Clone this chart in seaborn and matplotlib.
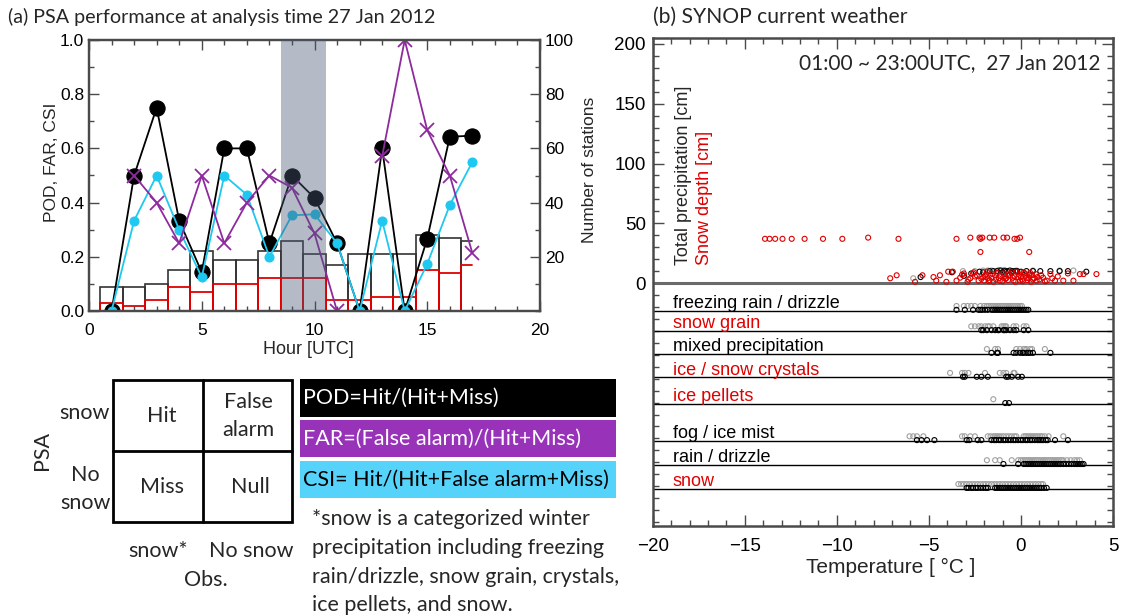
import numpy as np
import pandas as pd
import matplotlib.pyplot as plt
import matplotlib.patches as mpatches
import matplotlib.transforms as mtransforms
from matplotlib.ticker import MultipleLocator, FixedLocator, FormatStrFormatter
import seaborn as sns

sns.set_style("ticks")
plt.rcParams['font.family'] = ['Liberation Sans', 'DejaVu Sans']
plt.rcParams['xtick.direction'] = 'in'
plt.rcParams['ytick.direction'] = 'in'
GILL = ['Lato', 'DejaVu Sans']

# ---- (a) PSA scores per hour ----
hours = list(range(1, 18))
pod = [0.0, 0.5, 0.75, 0.333, 0.143, 0.6, 0.6, 0.25, 0.5, 0.417, 0.25, 0.0, 0.6, 0.0, 0.267, 0.643, 0.647]
far = [np.nan, 0.5, 0.4, 0.25, 0.5, 0.25, 0.4, 0.5, 0.455, 0.286, 0.0, np.nan, 0.571, 1.0, 0.667, 0.5, 0.214]
csi = [0.0, 0.333, 0.5, 0.3, 0.125, 0.5, 0.429, 0.2, 0.353, 0.357, 0.25, 0.0, 0.333, 0.0, 0.174, 0.391, 0.55]
n_total = [9, 9, 10, 15, 22, 19, 19, 22, 26, 21, 17, 21, 21, 21, 28, 27, 26]
n_snow = [3, 2, 4, 9, 7, 10, 10, 12, 12, 12, 4, 4, 5, 5, 15, 14, 17]
shade_hours = (8.5, 10.5)

# ---- (b) SYNOP current weather ----
cat_names = ['freezing rain / drizzle', 'snow grain', 'mixed precipitation', 'ice / snow crystals',
             'ice pellets', 'fog / ice mist', 'rain / drizzle', 'snow']
cat_colors = ['black', '#e00000', 'black', '#e00000', '#e00000', 'black', 'black', '#e00000']
cat_levels = [-23, -40, -59, -79, -101, -132, -152, -172]

fzra_grey = [-3.5, -3.1, -2.9, -2.7, -2.5, -2.2, -2.0, -1.85, -1.75, -1.65, -1.55, -1.45, -1.35, -1.25,
             -1.15, -1.05, -0.95, -0.85, -0.75, -0.65, -0.55, -0.45, -0.35, -0.25, -0.15, -0.05, 0.05]
fzra_black = [-3.5, -3.05, -2.6, -2.3, -2.2, -2.1, -1.95, -1.8, -1.6, -1.5, -1.4, -1.3, -1.2, -1.1, -1.0,
              -0.9, -0.8, -0.7, -0.6, -0.5, -0.4, -0.3, -0.2, -0.1, 0.0, 0.1, 0.2, 0.3, 0.4]
sngr_grey = [-2.7, -2.5, -2.3, -2.15, -1.95, -1.8, -1.7, -1.5, -1.05, -0.95, -0.85, -0.8, -0.4, -0.25, 0.15, 0.3]
sngr_black = [-2.15, -2.05, -1.85, -1.6, -1.4, -1.25, -1.2, -0.95, -0.9, -0.8, -0.6, -0.4, -0.25, 0.15, 0.4]
mixed_grey = [-1.85, -1.4, -1.25, -0.25, -0.05, 0.15, 0.2, 0.3, 0.5, 0.6, 1.3]
mixed_black = [-1.6, -1.3, -1.25, -0.4, -0.25, -0.05, 0.1, 0.15, 0.3, 0.4, 0.5, 0.65, 1.6]
crys_grey = [-3.85, -3.2, -3.05, -2.85, -1.95, -1.15, -0.95, -0.8, -0.4, -0.35]
crys_black = [-3.15, -3.05, -2.4, -2.15, -1.8, -0.8, -0.7, -0.5, -0.15, 0.05]
pellet_grey = [-1.5]
pellet_black = [-0.85, -0.65]
fog_grey = [-6.05, -5.85, -5.65, -5.3, -3.2, -3.05, -2.75, -2.5, -1.8, -1.65, -1.5, -1.4, -1.3, -1.2, -1.1,
            -0.95, -0.8, -0.65, -0.5, -0.35, -0.25, 0.15, 0.25, 0.35, 0.45, 0.55, 0.65, 0.75, 0.85, 0.95,
            1.05, 1.15, 1.3, 1.5, 2.3]
fog_black = [-5.65, -5.4, -5.1, -4.7, -2.95, -2.8, -2.35, -2.15, -1.6, -1.45, -1.35, -1.2, -1.1, -0.95,
             -0.85, -0.7, -0.55, -0.4, -0.3, -0.15, 0.0, 0.1, 0.25, 0.35, 0.5, 0.6, 0.75, 0.9, 1.0, 1.1,
             1.2, 1.35, 1.45, 1.85, 2.55]
rain_grey = [-1.85, -1.4, -1.15, -0.5, -0.15, 0.0, 0.1, 0.2, 0.3, 0.4, 0.5, 0.6, 0.7, 0.8, 0.9, 1.0, 1.1,
             1.2, 1.3, 1.4, 1.5, 1.6, 1.7, 1.8, 1.9, 2.0, 2.1, 2.2, 2.3, 2.5, 2.7, 2.9, 3.05, 3.2]
rain_black = [-0.95, -0.15, 0.15, 0.25, 0.35, 0.45, 0.55, 0.65, 0.75, 0.85, 0.95, 1.05, 1.15, 1.25, 1.35,
              1.45, 1.55, 1.65, 1.75, 1.85, 1.95, 2.05, 2.15, 2.3, 2.45, 2.6, 2.75, 2.9, 3.0, 3.1, 3.2, 3.3, 3.4]
snow_grey = [-3.4, -3.25, -3.1, -2.95, -2.8, -2.65, -2.5, -2.35, -2.2, -2.05, -1.9, -1.75, -1.6, -1.45,
             -1.3, -1.15, -1.0, -0.85, -0.7, -0.55, -0.4, -0.25, -0.1, 0.05, 0.2, 0.35, 0.5, 0.65, 0.8,
             0.95, 1.1, 1.2]
snow_black = [-2.95, -2.85, -2.7, -2.6, -2.45, -2.35, -2.2, -2.05, -1.9, -1.8, -1.4, -1.3, -1.2, -1.1,
              -1.0, -0.9, -0.8, -0.7, -0.6, -0.5, -0.4, -0.3, -0.2, -0.1, 0.0, 0.1, 0.2, 0.3, 0.4, 0.5,
              0.6, 0.7, 0.8, 0.9, 1.0, 1.1, 1.25, 1.4]
cat_grey = [fzra_grey, sngr_grey, mixed_grey, crys_grey, pellet_grey, fog_grey, rain_grey, snow_grey]
cat_black = [fzra_black, sngr_black, mixed_black, crys_black, pellet_black, fog_black, rain_black, snow_black]

# snow depth [cm] vs temperature (red)
depth_t = [-13.9, -13.65, -13.35, -12.95, -12.45, -11.75, -10.75, -9.7, -8.3, -6.65, -3.5, -2.75, -2.25,
           -2.2, -2.1, -1.7, -1.45, -0.95, -0.75, -0.35, -0.2, -0.05, -2.2, 0.45,
           -7.1, -6.75, -5.75, -5.35, -4.75, -4.6, -4.4, -4.05, -3.95, -3.7, -3.5, -3.3, -3.1, -2.9, -2.75,
           -2.6, -2.5, -2.4, -2.3, -2.05, -2.0, -1.9, -1.85, -1.8, -1.7, -1.6, -1.5, -1.4, -1.3, -1.2,
           -1.15, -1.0, -0.95, -0.9, -0.8, -0.7, -0.6, -0.5, -0.45, -0.4, -0.3, -0.25, -0.15, -0.1, 0.0,
           0.05, 0.1, 0.15, 0.2, 0.25, 0.35, 0.4, 0.5, 0.55, 0.6, 0.7, 0.8, 0.85, 1.0, 1.1, 1.2, 1.4, 1.6,
           1.85, 2.3, 2.55, 2.85, 3.2, 3.4, 4.1,
           -3.2, -2.85, -2.55, -2.15, -1.95, -1.75, -1.55, -1.35, -1.1, -0.85, -0.65, -0.35, -0.05, 0.3,
           0.45, 0.65, 0.9, 1.3, 1.7, 2.0]
depth_v = [37, 37, 37, 37, 37, 37, 37, 37, 38, 37, 37, 38, 38, 37, 38, 38, 38, 38, 38, 37, 37, 38, 26, 26,
           4, 6.5, 1, 6.5, 5, 2, 6.5, 1, 9.5, 9.5, 2, 4.5, 8, 1, 4, 8, 5.5, 6.5, 2, 5, 2, 7, 9.5, 4, 2.5,
           4.5, 1, 6.5, 8.5, 4, 2, 1.5, 8, 6, 4, 2.5, 6.5, 9, 4.5, 2, 1, 9.5, 5, 7, 5, 3, 1.5, 9, 8, 6,
           2.5, 4, 8.5, 1, 6.5, 4, 7.5, 2, 3, 6.5, 4.5, 2, 7.5, 2, 2, 8, 2, 7.5, 7.5, 7.5,
           7, 3, 9, 3.5, 6, 1.5, 7.5, 3, 6, 3.5, 8, 6, 2, 4.5, 6.5, 3, 5, 1.5, 4, 5.5]
# total precipitation [cm] vs temperature
prcp_black_t = [-5.45, -3.75, -3.1, -2.7, -2.25, -2.05, -1.7, -1.5, -1.3, -1.1, -1.0, -0.9, -0.75, -0.6,
                -0.5, -0.45, -0.3, -0.2, 0.0, 0.3, 0.65, 1.05, 1.6, 2.1, 2.55, 3.55]
prcp_black_v = [5, 9, 6, 8, 9.5, 9, 10, 10, 10, 10.5, 9, 10, 10, 10.5, 8.5, 10, 10, 10, 9.5, 10, 10, 10,
                10, 10, 10, 9.5]
prcp_grey_t = [-5.85, -3.75, -3.15, -2.5, -2.05, -1.8, -1.6, -1.2, -0.9, -0.25, 0.65, 2.1, 2.85]
prcp_grey_v = [4, 9.5, 10, 10, 10.5, 10.5, 10.5, 11, 11, 10.5, 10.5, 10.5, 10.5]

BLACK = 'black'
PURPLE = '#8e2a9e'
CYAN = '#1ec8f0'
RED = '#e00000'
GREY = '#a0a0a0'
SPINE = '#4a4a4a'

fig = plt.figure(figsize=(11.28, 6.15), dpi=100)
W, H = 1128, 615


def frac(x0, y0, x1, y1):
    return [x0 / W, 1 - y1 / H, (x1 - x0) / W, (y1 - y0) / H]


# ================= panel (a) =================
ax1 = fig.add_axes(frac(89, 40, 540, 311))
ax2 = ax1.twinx()
ax1.set_zorder(ax2.get_zorder() + 1)
ax1.patch.set_visible(False)

# station counts: outlined bars, last hour as a half step (IDL histogram style)
ax2.bar(hours[:-1], n_total[:-1], width=1, fill=False, edgecolor='#333333', linewidth=1.2)
ax2.bar(hours[:-1], n_snow[:-1], width=1, fill=False, edgecolor=RED, linewidth=1.3)
ax2.plot([hours[-1] - 0.5, hours[-1] - 0.5, hours[-1]], [0, n_total[-1], n_total[-1]], color='#333333', lw=1.2)
ax2.plot([hours[-1] - 0.5, hours[-1] - 0.5, hours[-1]], [0, n_snow[-1], n_snow[-1]], color=RED, lw=1.3)

sns.lineplot(x=hours, y=pod, ax=ax1, color=BLACK, marker='o', markersize=11, markeredgecolor=BLACK,
             lw=1.3, estimator=None, sort=False)
sns.lineplot(x=hours, y=csi, ax=ax1, color=CYAN, marker='o', markersize=6.5, markeredgecolor=CYAN,
             lw=1.3, estimator=None, sort=False)
far_df = pd.DataFrame({'hour': hours, 'far': far})
far_df['seg'] = far_df['far'].isna().cumsum()
far_df = far_df.dropna()
sns.lineplot(data=far_df, x='hour', y='far', units='seg', estimator=None, ax=ax1, color=PURPLE,
             marker='x', markersize=10, markeredgewidth=1.3, markeredgecolor=PURPLE, lw=1.3, sort=False)

ax1.axvspan(*shade_hours, color=(0.29, 0.35, 0.46), alpha=0.41, lw=0, zorder=10)

ax1.set_xlim(0, 20)
ax1.set_ylim(0, 1.0)
ax2.set_ylim(0, 100)
ax1.xaxis.set_major_locator(MultipleLocator(5))
ax1.xaxis.set_minor_locator(MultipleLocator(1))
ax1.yaxis.set_major_locator(MultipleLocator(0.2))
ax1.yaxis.set_minor_locator(MultipleLocator(0.1))
ax1.yaxis.set_major_formatter(FormatStrFormatter('%.1f'))
ax2.yaxis.set_major_locator(FixedLocator([20, 40, 60, 80, 100]))
ax2.yaxis.set_minor_locator(MultipleLocator(10))
ax1.tick_params(which='both', top=True, right=False, colors=SPINE, labelcolor='black', labelsize=12.5)
ax1.tick_params(which='major', length=7, width=1)
ax1.tick_params(which='minor', length=3.5, width=1)
ax1.tick_params(axis='x', pad=8.5)
ax1.tick_params(axis='y', pad=3.5)
ax2.tick_params(which='both', colors=SPINE, labelcolor='black', labelsize=12.5)
ax2.tick_params(which='major', length=7, width=1)
ax2.tick_params(which='minor', length=3.5, width=1)
for a in (ax1, ax2):
    a.set_xlabel('')
    a.set_ylabel('')
    for s in a.spines.values():
        s.set_color(SPINE)
        s.set_linewidth(1.6)

fig.text(52 / W, 1 - 162 / H, 'POD, FAR, CSI', rotation=90, ha='center', va='center', fontsize=12.5)
fig.text(589 / W, 1 - 170 / H, 'Number of stations', rotation=90, ha='center', va='center', fontsize=12.5)
fig.text(308 / W, 1 - 349 / H, 'Hour [UTC]', ha='center', va='center', fontsize=13)
fig.text(8 / W, 1 - 17 / H, '(a) PSA performance at analysis time 27 Jan 2012', ha='left', va='center',
         fontsize=14.2, family=GILL)

# ================= panel (b) =================
ax3 = fig.add_axes(frac(652.7, 38, 1113, 525.7))
for lvl in cat_levels:
    ax3.axhline(lvl, color='black', lw=1, zorder=1)
ax3.axhline(0, color='#6a6a6a', lw=2.2, zorder=1)

pt_kw = dict(s=13, facecolor='none', linewidth=0.8, ax=ax3, zorder=3, legend=False)
for lvl, g, b in zip(cat_levels, cat_grey, cat_black):
    sns.scatterplot(x=g, y=[lvl + 3.8] * len(g), color=GREY, edgecolor=GREY, **pt_kw)
    sns.scatterplot(x=b, y=[lvl + 0.6] * len(b), color=BLACK, edgecolor=BLACK, **pt_kw)
sns.scatterplot(x=prcp_grey_t, y=prcp_grey_v, color=GREY, edgecolor=GREY, **pt_kw)
sns.scatterplot(x=prcp_black_t, y=prcp_black_v, color=BLACK, edgecolor=BLACK, **pt_kw)
sns.scatterplot(x=depth_t, y=depth_v, color=RED, edgecolor=RED, **pt_kw)

label_tr = mtransforms.blended_transform_factory(ax3.transAxes, ax3.transData)
for name, col, lvl in zip(cat_names, cat_colors, cat_levels):
    ax3.text(0.044, lvl + 2.2, name, color=col, fontsize=13, ha='left', va='baseline', transform=label_tr)

ax3.text(-18.33, 15.5, 'Total precipitation [cm]', rotation=90, ha='center', va='bottom', fontsize=13)
ax3.text(-17.16, 15.5, 'Snow depth [cm]', rotation=90, ha='center', va='bottom', fontsize=13, color=RED)
ax3.text(0.972, 0.949, '01:00 ~ 23:00UTC,  27 Jan 2012', transform=ax3.transAxes, ha='right',
         va='center', fontsize=15, family=GILL)

ax3.set_xlim(-20, 5)
ax3.set_ylim(-203, 205)
ax3.xaxis.set_major_locator(MultipleLocator(5))
ax3.xaxis.set_minor_locator(MultipleLocator(1))
ax3.yaxis.set_major_locator(FixedLocator([0, 50, 100, 150, 200]))
ax3.yaxis.set_minor_locator(MultipleLocator(10))
ax3.tick_params(which='both', top=True, right=True, colors=SPINE, labelcolor='black', labelsize=13.5)
ax3.tick_params(which='major', length=8, width=1)
ax3.tick_params(which='minor', length=4, width=1)
ax3.tick_params(axis='x', pad=8.5)
ax3.tick_params(axis='y', pad=5)
for s in ax3.spines.values():
    s.set_color(SPINE)
    s.set_linewidth(1.8)
fig.text(891 / W, 1 - 567 / H, 'Temperature [ °C ]', ha='center', va='center', fontsize=15)
fig.text(653 / W, 1 - 17 / H, '(b) SYNOP current weather', ha='left', va='center', fontsize=15.2,
         family=GILL)

# ================= contingency table & definitions =================
axt = fig.add_axes([0, 0, 1, 1], zorder=-5)
axt.set_xlim(0, W)
axt.set_ylim(H, 0)
axt.axis('off')
axt.add_patch(mpatches.Rectangle((113, 380), 179, 142, fill=False, lw=2, ec='black'))
axt.plot([202.5, 202.5], [380, 522], color='black', lw=2)
axt.plot([113, 292], [451, 451], color='black', lw=2)
tk = dict(ha='center', va='center', fontsize=15.5, family=GILL, linespacing=1.5)
axt.text(162, 416, 'Hit', **tk)
axt.text(248, 416, 'False\nalarm', **tk)
axt.text(162, 487, 'Miss', **tk)
axt.text(250, 487, 'Null', **tk)
axt.text(84, 413, 'snow', **tk)
axt.text(85, 489, 'No\nsnow', **tk)
axt.text(42, 451, 'PSA', rotation=90, **tk)
axt.text(158, 551, 'snow*', **tk)
axt.text(251, 551, 'No snow', **tk)
axt.text(206, 580, 'Obs.', **tk)

boxes = [('POD=Hit/(Hit+Miss)', 'black', 'white', 379, 417),
         ('FAR=(False alarm)/(Hit+Miss)', '#9833b9', 'white', 420, 457),
         ('CSI= Hit/(Hit+False alarm+Miss)', '#55d3fa', 'black', 461, 498)]
for txt, bg, fg, y0, y1 in boxes:
    axt.add_patch(mpatches.Rectangle((300, y0), 316, y1 - y0, color=bg, lw=0))
    axt.text(303, (y0 + y1) / 2, txt, color=fg, ha='left', va='center', fontsize=15.5, family=GILL)
axt.text(312, 509, '*snow is a categorized winter\nprecipitation including freezing\n'
         'rain/drizzle, snow grain, crystals,\nice pellets, and snow.',
         ha='left', va='top', fontsize=15.5, family=GILL, linespacing=1.55)

fig.savefig('out.png', dpi=100)
